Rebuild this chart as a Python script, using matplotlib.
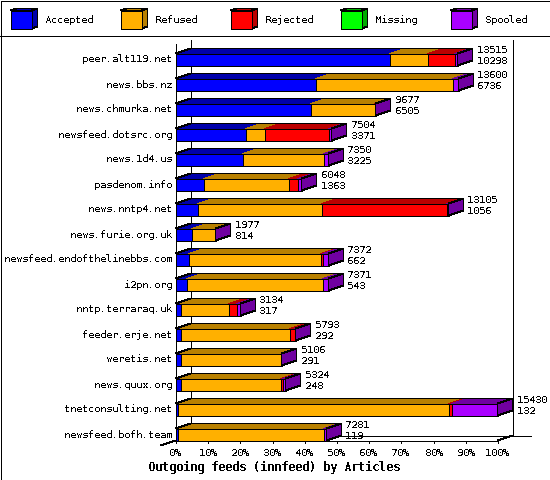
import matplotlib
matplotlib.use('Agg')
import matplotlib.pyplot as plt
from matplotlib.patches import Polygon, Rectangle

hosts = ['peer.alt119.net', 'news.bbs.nz', 'news.chmurka.net', 'newsfeed.dotsrc.org',
         'news.1d4.us', 'pasdenom.info', 'news.nntp4.net', 'news.furie.org.uk',
         'newsfeed.endofthelinebbs.com', 'i2pn.org', 'nntp.terraraq.uk', 'feeder.erje.net',
         'weretis.net', 'news.quux.org', 'tnetconsulting.net', 'newsfeed.bofh.team']
# share of the biggest feed, in percent
accepted = [66.5, 43.5, 41.8, 21.6, 20.7, 8.6, 6.7, 4.9, 3.9, 3.3, 1.7, 1.7, 1.7, 1.6, 0.6, 0.6]
refused = [11.9, 42.5, 20.0, 5.9, 25.4, 26.4, 38.5, 7.5, 41.0, 42.5, 14.9, 33.6, 31.1, 30.9, 84.1, 45.4]
rejected = [8.1, 0, 0.4, 19.9, 0, 2.8, 39.0, 0, 0.6, 0, 2.2, 1.8, 0, 0.6, 0.9, 0]
spooled = [1.1, 1.9, 0, 1.0, 1.3, 1.3, 0.5, 0, 1.9, 1.6, 1.3, 0.1, 0, 1.2, 14.4, 0.9]
total_articles = [13515, 13600, 9677, 7504, 7350, 6048, 13105, 1977, 7372, 7371, 3134, 5793, 5106, 5324, 15430, 7281]
shown_articles = [10298, 6736, 6505, 3371, 3225, 1363, 1056, 814, 662, 543, 317, 292, 291, 248, 132, 119]
ticks = [0, 10, 20, 30, 40, 50, 60, 70, 80, 90, 100]
legend_names = ['Accepted', 'Refused', 'Rejected', 'Missing', 'Spooled']

front = {'Accepted': '#0000ff', 'Refused': '#ffb000', 'Rejected': '#ff0000', 'Missing': '#00ff00', 'Spooled': '#aa00ff'}
dark = {'Accepted': '#0000aa', 'Refused': '#b88000', 'Rejected': '#bb0000', 'Missing': '#00aa00', 'Spooled': '#7000a0'}

X0, X100 = 175.5, 497.5
ROW_TOP, ROW_STEP, ROW_H = 53.5, 25, 12
DX, DY = 15, 5
MONO = 'DejaVu Sans Mono'
FS = 7.2

plt.rcParams['text.antialiased'] = False
plt.rcParams['text.hinting'] = 'native'
plt.rcParams['text.hinting_factor'] = 1
plt.rcParams['font.family'] = MONO


def px(pct):
    return round(X0 + pct * (X100 - X0) / 100 - 0.5) + 0.5


def poly(ax, pts, fill, edge='black', z=2):
    ax.add_patch(Polygon(pts, closed=True, facecolor=fill, edgecolor=edge, linewidth=0.72,
                         antialiased=False, zorder=z, clip_on=False))


def line(ax, xs, ys, z=1):
    ax.plot(xs, ys, color='black', lw=0.72, antialiased=False, solid_capstyle='butt', zorder=z)


def draw_bar(ax, i):
    top = ROW_TOP + i * ROW_STEP
    bot = top + ROW_H
    parts = [('Accepted', accepted[i]), ('Refused', refused[i]), ('Rejected', rejected[i]), ('Spooled', spooled[i])]
    pos = 0
    for name, width in parts:
        if width <= 0:
            continue
        a, b = px(pos), px(pos + width)
        poly(ax, [(a, top), (a + DX, top - DY), (b + DX, top - DY), (b, top)], dark[name], edge='none')
        pos += width
    end = px(pos)
    pos = 0
    for name, width in parts:
        if width <= 0:
            continue
        a, b = px(pos), px(pos + width)
        poly(ax, [(a, top), (b, top), (b, bot), (a, bot)], front[name], z=3)
        pos += width
    poly(ax, [(end, top), (end + DX, top - DY), (end + DX, bot - DY), (end, bot)], dark['Spooled'], z=3)
    line(ax, [X0, X0 + DX, end + DX], [top, top - DY, top - DY], z=3)
    ax.text(end + DX + 4, top - 3.5, str(total_articles[i]), ha='left', va='center', fontsize=FS, zorder=5)
    ax.text(end + DX + 4, top + 7.5, str(shown_articles[i]), ha='left', va='center', fontsize=FS, zorder=5)
    ax.text(172, top + 6, hosts[i], ha='right', va='center', fontsize=FS, zorder=5)


fig = plt.figure(figsize=(5.5, 4.8), dpi=100)
ax = fig.add_axes([0, 0, 1, 1])
ax.set_xlim(0, 550)
ax.set_ylim(480, 0)
ax.axis('off')

# outer frame, drawn on the figure so the axes edge can't clip it
fig.add_artist(Rectangle((0.5 / 550, 0.5 / 480), 549 / 550, 479 / 480, transform=fig.transFigure,
                         facecolor='none', edgecolor='black', linewidth=0.72, antialiased=False, zorder=10))
line(ax, [0, 550], [35.5, 35.5])

# legend strip
for k, name in enumerate(legend_names):
    x = 10.5 + 110 * k
    poly(ax, [(x, 10.5), (x + 6, 8.5), (x + 27, 8.5), (x + 21, 10.5)], dark[name])
    poly(ax, [(x + 21, 10.5), (x + 27, 8.5), (x + 27, 26.5), (x + 21, 28.5)], dark[name])
    poly(ax, [(x, 10.5), (x + 21, 10.5), (x + 21, 28.5), (x, 28.5)], front[name])
    ax.text(x + 34, 20, name, ha='left', va='center', fontsize=FS)

# walls and floor
line(ax, [X0, X0], [44, 440.5])
line(ax, [X0 + DX, X0 + DX], [40, 435.5])
line(ax, [X100 + DX, X100 + DX], [40, 435.5])
line(ax, [X0, X100], [440.5, 440.5], z=4)
line(ax, [X0 + DX, 531], [435.5, 435.5])
line(ax, [X100, X100 + DX], [440.5, 435.5])
line(ax, [161, X0], [445.5, 440.5], z=4)

for t in ticks:
    line(ax, [px(t), px(t)], [440.5, 443], z=4)
    ax.text(px(t), 453, '%d%%' % t, ha='center', va='center', fontsize=FS)

for i in range(len(hosts)):
    draw_bar(ax, i)

ax.text(274.5, 467, 'Outgoing feeds (innfeed) by Articles', ha='center', va='center',
        fontsize=8.4, fontweight='bold')

fig.savefig('out.png', dpi=100)
